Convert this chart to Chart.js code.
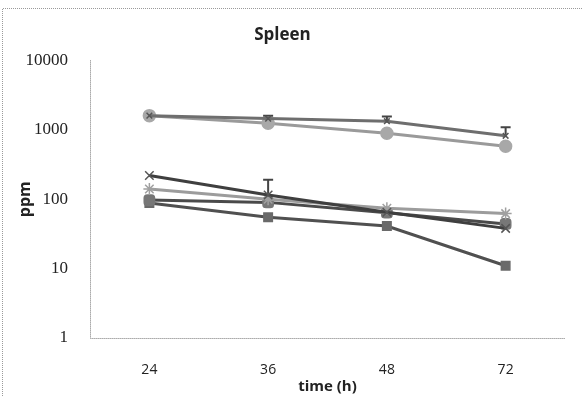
<!DOCTYPE html>
<html><head><meta charset="utf-8">
<script src="https://cdn.jsdelivr.net/npm/chart.js@4/dist/chart.umd.min.js"></script>
<style>html,body{margin:0;padding:0;background:#fff}#w{width:582px;height:396px}</style>
</head><body><div id="w"><canvas id="c" width="582" height="396"></canvas></div>
<script>
const categories = ['24', '36', '48', '72'];
const yTicks = [1, 10, 100, 1000, 10000];
const seriesA = [1600, 1450, 1330, 820];
const seriesAErr = [null, 1600, 1560, 1090];
const seriesB = [1600, 1240, 890, 580];
const seriesC = [220, 115, 65, 38];
const seriesCErr = [null, 190, null, null];
const seriesD = [140, 100, 74, 62];
const seriesE = [97, 90, 64, 44];
const seriesF = [88, 55, 41, 11];

const errorBars = [{ds: 0, vals: seriesAErr, color: '#444'}, {ds: 2, vals: seriesCErr, color: '#444'}];

const errPlugin = {
  id: 'err',
  beforeDatasetsDraw(chart) {
    const ctx = chart.ctx, x = chart.scales.x, y = chart.scales.y;
    errorBars.forEach(e => {
      const d = chart.data.datasets[e.ds].data;
      e.vals.forEach((v, i) => {
        if (v == null) return;
        const px = x.getPixelForValue(i);
        const p0 = y.getPixelForValue(d[i]), p1 = y.getPixelForValue(v);
        ctx.save();
        ctx.strokeStyle = e.color; ctx.lineWidth = 2;
        ctx.beginPath(); ctx.moveTo(px, p0); ctx.lineTo(px, p1);
        ctx.moveTo(px - 5, p1); ctx.lineTo(px + 5, p1); ctx.stroke();
        ctx.restore();
      });
    });
  }
};
const framePlugin = {
  id: 'frame',
  beforeDraw(chart) {
    const ctx = chart.ctx, a = chart.chartArea;
    ctx.save();
    ctx.strokeStyle = '#9a9a9a'; ctx.lineWidth = 1; ctx.setLineDash([1, 1]);
    ctx.beginPath(); ctx.moveTo(582, 8.5); ctx.lineTo(2.5, 8.5); ctx.lineTo(2.5, 396); ctx.stroke();
    ctx.strokeStyle = '#777';
    ctx.beginPath(); ctx.moveTo(a.left + 0.5, a.top); ctx.lineTo(a.left + 0.5, a.bottom + 0.5); ctx.lineTo(a.right, a.bottom + 0.5); ctx.stroke();
    ctx.restore();
  }
};

function ds(label, data, color, mColor, style, r, w) {
  return {label, data, borderColor: color, borderWidth: w, pointStyle: style, pointRadius: r,
    pointBackgroundColor: mColor, pointBorderColor: mColor, pointBorderWidth: 1.5, tension: 0};
}

new Chart(document.getElementById('c'), {
  type: 'line',
  data: {
    labels: categories,
    datasets: [
      ds('A', seriesA, '#6e6e6e', '#555', 'crossRot', 4, 3),
      ds('B', seriesB, '#9a9a9a', '#a8a8a8', 'circle', 6, 3),
      ds('C', seriesC, '#3f3f3f', '#555', 'crossRot', 6, 3),
      ds('D', seriesD, '#9c9c9c', '#a0a0a0', 'star', 6, 3),
      ds('E', seriesE, '#4a4a4a', '#777', 'rectRounded', 6, 3),
      ds('F', seriesF, '#505050', '#6a6a6a', 'rect', 6, 3)
    ]
  },
  options: {
    responsive: false, animation: false,
    layout: {padding: {left: 0, right: 17, top: 0, bottom: 0}},
    plugins: {
      legend: {display: false}, tooltip: {enabled: false},
      title: {display: true, text: 'Spleen', color: '#222', font: {family: 'Open Sans', size: 17, weight: 'bold'}, padding: {top: 25, bottom: 15}}
    },
    scales: {
      x: {
        offset: true,
        grid: {display: false, drawTicks: false},
        border: {display: false},
        ticks: {color: '#222', padding: 24, font: {family: 'Open Sans', size: 14}},
        title: {display: true, text: 'time (h)', color: '#222', font: {family: 'Open Sans', size: 15, weight: 'bold'}, padding: {top: 0, bottom: 0}},
        afterFit(s) { s.height = 58; }
      },
      y: {
        type: 'logarithmic', min: 1, max: 10000,
        afterBuildTicks(s) { s.ticks = yTicks.map(v => ({value: v})); },
        grid: {display: false, drawTicks: false},
        border: {display: false},
        ticks: {color: '#222', padding: 22, font: {family: 'Liberation Serif', size: 17}, callback: v => String(v)},
        title: {display: true, text: 'ppm', color: '#222', font: {family: 'Open Sans', size: 16, weight: 'bold'}, padding: {top: 16, bottom: 0}},
        afterFit(s) { s.width = 90; }
      }
    }
  },
  plugins: [errPlugin, framePlugin]
});
</script></body></html>
